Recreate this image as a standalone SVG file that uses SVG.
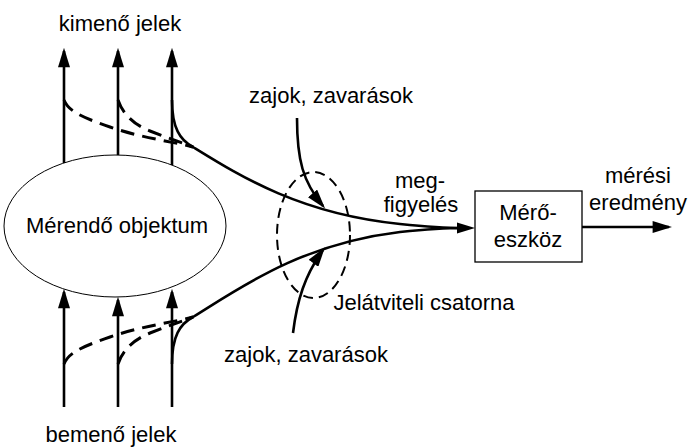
<svg xmlns="http://www.w3.org/2000/svg" width="691" height="447" viewBox="0 0 691 447">
<defs>
<marker id="ah" markerUnits="userSpaceOnUse" markerWidth="20" markerHeight="12" viewBox="0 0 18 11" refX="15" refY="5.5" orient="auto">
<path d="M0,0 L18,5.5 L0,11 z" fill="#000"/>
</marker>
<style>
text{font-family:"Liberation Sans",Arial,sans-serif;font-size:22px;fill:#000;text-anchor:middle}
.sig{fill:none;stroke:#000;stroke-width:2.6}
.dash{fill:none;stroke:#000;stroke-width:3;stroke-dasharray:14 8}
.arr{marker-end:url(#ah)}
</style>
</defs>
<rect width="691" height="447" fill="#fff"/>
<g id="object">
<ellipse cx="115" cy="226" rx="111" ry="71" fill="#fff" stroke="#000" stroke-width="1"/>
<text x="117" y="233">Mérendő objektum</text>
</g>
<g id="instrument">
<rect x="475" y="191" width="107" height="71" fill="#fff" stroke="#000" stroke-width="1.3"/>
<text x="528" y="220">Mérő-</text>
<text x="528" y="247">eszköz</text>
</g>
<g id="channel">
<ellipse cx="313.5" cy="235" rx="36.5" ry="63" fill="none" stroke="#000" stroke-width="2" stroke-dasharray="10 6"/>
<text x="424" y="310">Jelátviteli csatorna</text>
</g>
<g id="labels">
<text x="120" y="31">kimenő jelek</text>
<text x="111" y="442">bemenő jelek</text>
<text x="331" y="103">zajok, zavarások</text>
<text x="306" y="362">zajok, zavarások</text>
<text x="420" y="188">meg-</text>
<text x="421" y="212">figyelés</text>
<text x="638" y="183">mérési</text>
<text x="638" y="210">eredmény</text>
</g>
<g id="connectors">
<line class="sig arr" x1="64" y1="163" x2="64" y2="51"/>
<line class="sig arr" x1="118" y1="155" x2="118" y2="51"/>
<line class="sig arr" x1="172" y1="165" x2="172" y2="51"/>
<line class="sig arr" x1="64" y1="407" x2="64" y2="292"/>
<line class="sig arr" x1="118" y1="407" x2="118" y2="300"/>
<line class="sig arr" x1="172" y1="407" x2="172" y2="292"/>
<path class="dash" d="M64,100 C68,110 78,116 110,127 S170,141 193,147"/>
<path class="dash" d="M118,100 C122,112 132,124 150,131 S180,142 193,147"/>
<path class="dash" d="M64,364 C68,354 78,348 110,337 S170,323 193,317"/>
<path class="dash" d="M118,364 C122,352 132,340 150,333 S180,322 193,317"/>
<path class="sig" d="M172,100 C172,128 180,140 193,147 C240,176 300,214 400,224 C430,227 450,228 462,228"/>
<path class="sig" d="M172,364 C172,336 180,324 193,317 C240,288 300,244 400,232 C430,229 450,228 462,228"/>
<path d="M475,228 L457,222.5 L457,233.5 z" fill="#000"/>
<line class="sig arr" x1="582" y1="227" x2="669" y2="227"/>
<path class="sig arr" d="M297,118 C297,160 303,182 323,206"/>
<path class="sig arr" d="M293,333 C297,300 305,275 323,250"/>
</g>
</svg>
